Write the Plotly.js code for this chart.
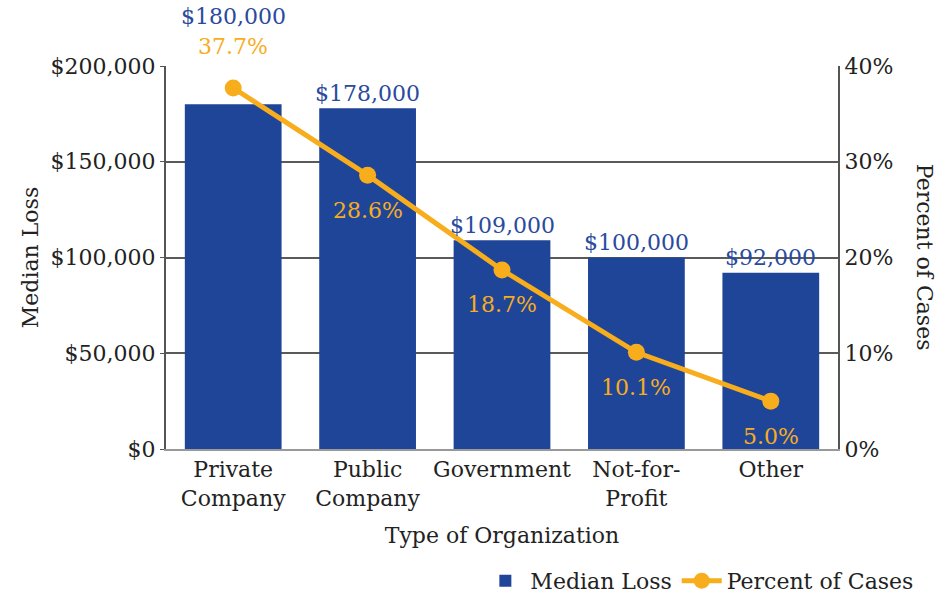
<!DOCTYPE html>
<html>
<head>
<meta charset="utf-8">
<script src="https://cdn.plot.ly/plotly-3.0.1.min.js"></script>
<style>
  html, body { margin: 0; padding: 0; background: #fff; }
  #grafico { width: 941px; height: 597px; }
</style>
</head>
<body>
<div id="grafico"></div>
<script>
let categorias = ['Private<br>Company', 'Public<br>Company', 'Government', 'Not-for-<br>Profit', 'Other'];
let perdidaMediana = [180000, 178000, 109000, 100000, 92000];
let porcentajeCasos = [37.7, 28.6, 18.7, 10.1, 5.0];
let etiquetasPerdida = ['$180,000', '$178,000', '$109,000', '$100,000', '$92,000'];
let etiquetasPorcentaje = ['37.7%', '28.6%', '18.7%', '10.1%', '5.0%'];
let ticksPerdida = [0, 50000, 100000, 150000, 200000];
let textoTicksPerdida = ['$0', '$50,000', '$100,000', '$150,000', '$200,000'];
let ticksPorcentaje = [0, 10, 20, 30, 40];
let textoTicksPorcentaje = ['0%', '10%', '20%', '30%', '40%'];

let azul = '#1f4599';
let naranja = '#f7ad1c';
let fuente = 'DejaVu Serif, Liberation Serif, serif';
let tam = 22;

let barras = {
	x: categorias,
	y: perdidaMediana,
	type: 'bar',
	name: 'Median Loss',
	marker: { color: azul },
	hoverinfo: 'skip'
};

let linea = {
	x: categorias,
	y: porcentajeCasos,
	type: 'scatter',
	mode: 'lines+markers',
	name: 'Percent of Cases',
	yaxis: 'y2',
	line: { color: naranja, width: 5 },
	marker: { color: naranja, size: 17 },
	hoverinfo: 'skip',
	cliponaxis: false
};

let anotaciones = [];
for (let i = 0; i < categorias.length; i++)
{
	// el primer punto queda sobre la barra: su etiqueta va arriba
	let arriba = i === 0;
	anotaciones.push({
		x: categorias[i], y: perdidaMediana[i], xref: 'x', yref: 'y',
		text: etiquetasPerdida[i], showarrow: false,
		yanchor: 'middle', yshift: arriba ? 88 : 15,
		font: { family: fuente, size: tam, color: '#2a4a9e' }
	});
	anotaciones.push({
		x: categorias[i], y: porcentajeCasos[i], xref: 'x', yref: 'y2',
		text: etiquetasPorcentaje[i], showarrow: false,
		yanchor: 'middle', yshift: arriba ? 42 : -35,
		font: { family: fuente, size: tam, color: naranja }
	});
}
anotaciones.push({
	text: 'Percent of Cases', xref: 'paper', yref: 'paper',
	x: 1.129, xanchor: 'center', y: 0.5, yanchor: 'middle',
	textangle: 90, showarrow: false,
	font: { family: fuente, size: tam, color: '#222' }
});

let layout = {
	width: 941,
	height: 597,
	margin: { l: 166, r: 103, t: 66, b: 148, autoexpand: false },
	paper_bgcolor: '#fff',
	plot_bgcolor: '#fff',
	font: { family: fuente, size: tam, color: '#222' },
	bargap: 0.28,
	showlegend: true,
	legend: {
		orientation: 'h', xref: 'container', yref: 'container',
		x: 0.977, xanchor: 'right', y: 0.027, yanchor: 'middle',
		font: { family: fuente, size: tam, color: '#222' },
		itemwidth: 40, traceorder: 'normal'
	},
	xaxis: {
		title: { text: 'Type of Organization', standoff: 18, font: { size: tam } },
		showline: true, linecolor: '#999', linewidth: 2,
		ticks: '', tickfont: { size: tam }, fixedrange: true
	},
	yaxis: {
		title: { text: 'Median Loss', standoff: 6, font: { size: tam } },
		range: [0, 200000], tickvals: ticksPerdida, ticktext: textoTicksPerdida,
		showline: true, linecolor: '#555', linewidth: 2,
		gridcolor: '#5a5a5a', gridwidth: 2, zeroline: false,
		ticks: 'outside', ticklen: 4, tickcolor: '#555',
		tickfont: { size: tam }
	},
	yaxis2: {
		overlaying: 'y', side: 'right', range: [0, 40],
		tickvals: ticksPorcentaje, ticktext: textoTicksPorcentaje,
		showline: true, linecolor: '#555', linewidth: 2,
		showgrid: false, zeroline: false, ticks: '',
		tickfont: { size: tam }
	},
	annotations: anotaciones
};

let contenedor = document.getElementById('grafico');
Plotly.newPlot(contenedor, [barras, linea], layout, { displayModeBar: false, staticPlot: true });
</script>
</body>
</html>
